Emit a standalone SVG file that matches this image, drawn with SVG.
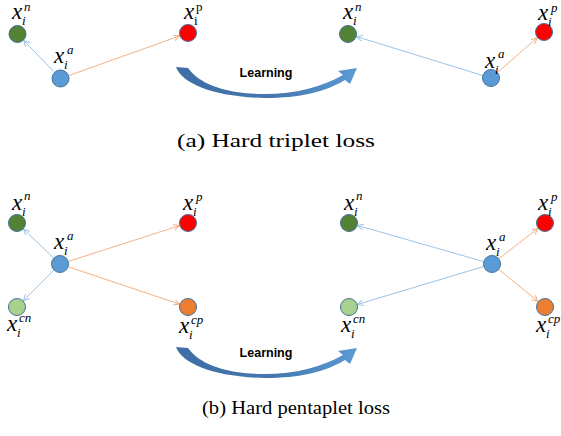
<svg xmlns="http://www.w3.org/2000/svg" width="561" height="436" viewBox="0 0 561 436">
<style>
.node{stroke:#41719c;stroke-width:1}
.a{fill:#5b9bd5}.n{fill:#548235}.p{fill:#ff0000}.cn{fill:#a9d18e}.cp{fill:#ed7d31}
.bl{stroke:#9dc3e6;stroke-width:1;fill:none;marker-end:url(#mb)}
.or{stroke:#f4b183;stroke-width:1;fill:none;marker-end:url(#mo)}
.x{font-style:italic;font-size:23px;fill:#000}
.sup{font-size:13px}
.sub{font-size:13px}
.up{font-style:normal}
.learn{font-weight:bold;font-size:12.5px;fill:#000}
.cap{font-size:18px;fill:#000}
</style>
<defs>
<marker id="mb" markerUnits="userSpaceOnUse" markerWidth="8" markerHeight="8" refX="6" refY="3" orient="auto"><path d="M0,0 L6,3 L0,6" fill="none" stroke="#9dc3e6" stroke-width="1"/></marker>
<marker id="mo" markerUnits="userSpaceOnUse" markerWidth="8" markerHeight="8" refX="6" refY="3" orient="auto"><path d="M0,0 L6,3 L0,6" fill="none" stroke="#f4b183" stroke-width="1"/></marker>
<linearGradient id="lg" x1="0" y1="0" x2="1" y2="0"><stop offset="0" stop-color="#3d6fa6"/><stop offset="0.55" stop-color="#4677ae"/><stop offset="1" stop-color="#5b9bd5"/></linearGradient>
<path id="larrow" d="M176,67 C182,84 215,97 265,98 C300,98 325,92 345,80 L350,84 L357,68 L338,71 L343,75 C322,87 295,94 265,94 C228,94 200,85 188,68 Z" fill="url(#lg)"/>
</defs>

<g id="connectors">
<line class="bl" x1="54.2" y1="72" x2="23.8" y2="40.5"/>
<line class="or" x1="69" y1="75.5" x2="179.5" y2="36"/>
<line class="bl" x1="482.4" y1="75.4" x2="356.6" y2="36.6"/>
<line class="or" x1="497.8" y1="72.1" x2="537.2" y2="37.9"/>
<line class="bl" x1="53.5" y1="257.8" x2="23.5" y2="229.2"/>
<line class="bl" x1="53.6" y1="270.4" x2="23.4" y2="300.6"/>
<line class="or" x1="68.6" y1="261.3" x2="179.4" y2="225.7"/>
<line class="or" x1="68.5" y1="266.9" x2="179.5" y2="304.1"/>
<line class="bl" x1="483.4" y1="261.5" x2="357.6" y2="225.5"/>
<line class="bl" x1="483.4" y1="266.6" x2="357.6" y2="304.4"/>
<line class="or" x1="499.1" y1="258.5" x2="537.9" y2="228.5"/>
<line class="or" x1="499" y1="269.7" x2="538" y2="301.3"/>
</g>

<g font-family="'Liberation Serif', 'Times New Roman', serif">
<!-- Top section -->
<g id="a-left-n"><circle class="node n" cx="17.5" cy="34" r="8.5"/><text class="x" x="12" y="19">x<tspan class="sup" x="24" y="11">n</tspan><tspan class="sub" x="22" y="25">i</tspan></text></g>
<g id="a-left-a"><circle class="node a" cx="60.5" cy="78.5" r="8.5"/><text class="x" x="54" y="63">x<tspan class="sup" x="67" y="54">a</tspan><tspan class="sub" x="64" y="69">i</tspan></text></g>
<g id="a-left-p"><circle class="node p" cx="188" cy="33" r="8.5"/><text class="x" x="184" y="19">x<tspan class="sup up" x="196" y="11">p</tspan><tspan class="sub up" x="194" y="25">i</tspan></text></g>
<g id="a-right-n"><circle class="node n" cx="348" cy="34" r="8.5"/><text class="x" x="343" y="19">x<tspan class="sup" x="355" y="11">n</tspan><tspan class="sub" x="353" y="25">i</tspan></text></g>
<g id="a-right-a"><circle class="node a" cx="491" cy="78" r="8.5"/><text class="x" x="485" y="68">x<tspan class="sup" x="498" y="58">a</tspan><tspan class="sub" x="495" y="74">i</tspan></text></g>
<g id="a-right-p"><circle class="node p" cx="544" cy="32" r="8.5"/><text class="x" x="538" y="20">x<tspan class="sup" x="551" y="12">p</tspan><tspan class="sub" x="548" y="26">i</tspan></text></g>
<text class="cap" x="276" y="147" text-anchor="middle" textLength="198" lengthAdjust="spacingAndGlyphs">(a) Hard triplet loss</text>

<!-- Bottom section -->
<g id="b-left-n"><circle class="node n" cx="17" cy="223" r="8.5"/><text class="x" x="12" y="210">x<tspan class="sup" x="24" y="200">n</tspan><tspan class="sub" x="22" y="216">i</tspan></text></g>
<g id="b-left-a"><circle class="node a" cx="60" cy="264" r="8.5"/><text class="x" x="54" y="249">x<tspan class="sup" x="67" y="240">a</tspan><tspan class="sub" x="64" y="255">i</tspan></text></g>
<g id="b-left-p"><circle class="node p" cx="188" cy="223" r="8.5"/><text class="x" x="183" y="210">x<tspan class="sup" x="196" y="201">p</tspan><tspan class="sub" x="193" y="216">i</tspan></text></g>
<g id="b-left-cn"><circle class="node cn" cx="17" cy="307" r="8.5"/><text class="x" x="7" y="331">x<tspan class="sup" x="19" y="322">cn</tspan><tspan class="sub" x="17" y="337">i</tspan></text></g>
<g id="b-left-cp"><circle class="node cp" cx="188" cy="307" r="8.5"/><text class="x" x="179" y="333">x<tspan class="sup" x="191" y="324">cp</tspan><tspan class="sub" x="189" y="339">i</tspan></text></g>
<g id="b-right-n"><circle class="node n" cx="349" cy="223" r="8.5"/><text class="x" x="344" y="210">x<tspan class="sup" x="356" y="200">n</tspan><tspan class="sub" x="354" y="216">i</tspan></text></g>
<g id="b-right-a"><circle class="node a" cx="492" cy="264" r="8.5"/><text class="x" x="486" y="250">x<tspan class="sup" x="499" y="241">a</tspan><tspan class="sub" x="496" y="256">i</tspan></text></g>
<g id="b-right-p"><circle class="node p" cx="545" cy="223" r="8.5"/><text class="x" x="538" y="210">x<tspan class="sup" x="551" y="201">p</tspan><tspan class="sub" x="548" y="216">i</tspan></text></g>
<g id="b-right-cn"><circle class="node cn" cx="349" cy="307" r="8.5"/><text class="x" x="341" y="332">x<tspan class="sup" x="353" y="323">cn</tspan><tspan class="sub" x="351" y="338">i</tspan></text></g>
<g id="b-right-cp"><circle class="node cp" cx="545" cy="307" r="8.5"/><text class="x" x="536" y="332">x<tspan class="sup" x="548" y="323">cp</tspan><tspan class="sub" x="546" y="338">i</tspan></text></g>
<text class="cap" x="296" y="414" text-anchor="middle" textLength="188" lengthAdjust="spacingAndGlyphs">(b) Hard pentaplet loss</text>
</g>

<g font-family="'Liberation Sans', Arial, sans-serif">
<g id="a-learning"><use href="#larrow"/><text class="learn" x="266" y="77" text-anchor="middle">Learning</text></g>
<g id="b-learning"><use href="#larrow" transform="translate(0,280)"/><text class="learn" x="266" y="357" text-anchor="middle">Learning</text></g>
</g>
</svg>
